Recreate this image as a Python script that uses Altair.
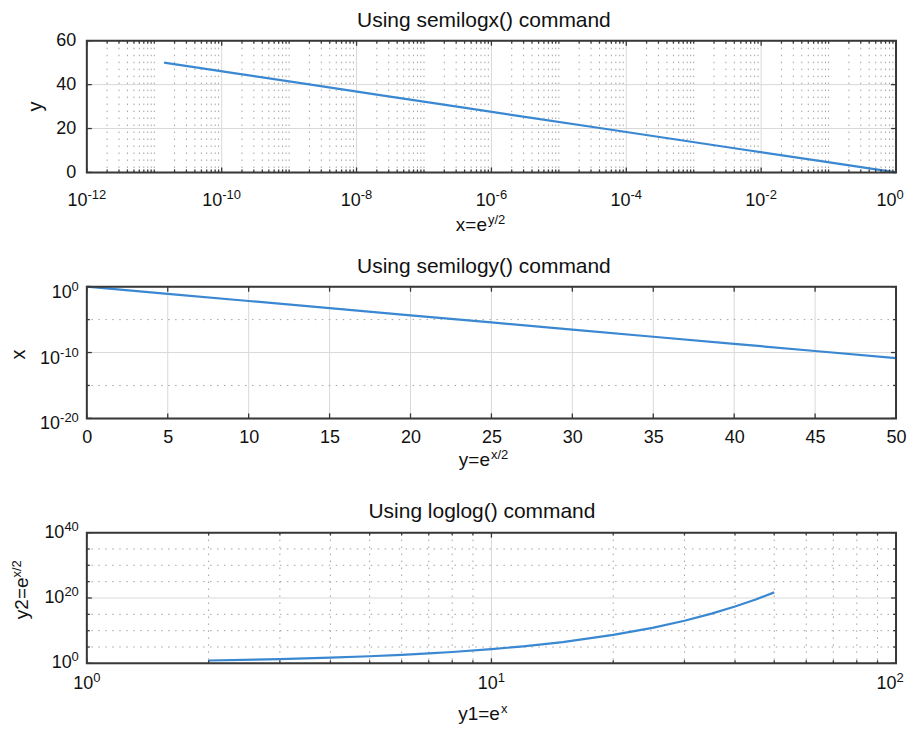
import math
import altair as alt
import pandas as pd

# ---------------- data ----------------
# panels 1 and 2: y runs 0..50, x = e^(-y/2)
y_lin = [0, 5, 10, 15, 20, 25, 30, 35, 40, 45, 50]
x_exp = [1.0, 8.2e-2, 6.7e-3, 5.5e-4, 4.5e-5, 3.7e-6, 3.1e-7, 2.5e-8, 2.1e-9, 1.7e-10, 1.4e-11]
# panel 3: loglog curve
y1_vals = [2, 3, 4, 5, 6, 7, 8, 10, 12, 15, 20, 25, 30, 35, 40, 45, 50]
y2_vals = [7.4, 20, 55, 150, 400, 1.1e3, 3.0e3, 2.2e4, 1.6e5, 3.3e6, 4.9e8,
           7.2e10, 1.1e13, 1.6e15, 2.4e17, 3.5e19, 5.2e21]

titles = ["Using semilogx() command", "Using semilogy() command", "Using loglog() command"]

# tick values
p1_x_major = [1e-12, 1e-10, 1e-8, 1e-6, 1e-4, 1e-2, 1.0]
p1_x_minor = [m * 10.0 ** k for k in range(-12, 0) for m in range(1, 10)
              if not (m == 1 and k % 2 == 0)]
p1_y_major = [0, 20, 40, 60]
p2_x_major = [0, 5, 10, 15, 20, 25, 30, 35, 40, 45, 50]
p2_y_major = [1e-20, 1e-10, 1.0]
p2_y_minor = [1e-15, 1e-5]
p3_x_major = [1, 10, 100]
p3_x_minor = [2, 3, 4, 5, 6, 7, 8, 9, 20, 30, 40, 50, 60, 70, 80, 90]
p3_y_major = [1.0, 1e20, 1e40]
p3_y_minor = [1e5, 1e10, 1e15, 1e25, 1e30, 1e35]

# ---------------- styling ----------------
W = 811
FONT = "Liberation Sans, Arial, sans-serif"
BLUE = "#3a88d1"
FRAME = "#383838"
MAJ_GRID = "#d9d9d9"
MIN_GRID = "#a9a0a0"
TXT = "#111111"
DOT = [1.5, 5.5]
LFS, EFS, RAISE = 18, 13, 7          # tick label size, exponent size, exponent raise
TS, AS, SS = 21, 19, 13              # title, axis-title, superscript sizes
BASE_W = 2 * 0.556 * LFS             # width of "10"
END_SHIFT = -6                       # keeps the right-most labels inside the page


def exp_str(v):
    return str(int(round(math.log10(v))))


def exp_w(s):
    return sum(0.333 if c == "-" else 0.556 for c in s) * EFS


def df1(col, vals):
    return pd.DataFrame({col: vals})


def axis(values, pad=8):
    return alt.Axis(values=values, grid=False, ticks=False, tickSize=0, domain=False, title=None,
                    labelFont=FONT, labelFontSize=LFS, labelColor=TXT, labelPadding=pad,
                    labelFlush=False, labelOverlap=False)


class Panel:
    def __init__(self, xs, ys, xa, ya, h, xmax=None):
        self.xs, self.ys, self.xa, self.ya, self.h, self.xmax = xs, ys, xa, ya, h, xmax

    def X(self, f):
        return alt.X(f"{f}:Q", scale=self.xs, axis=self.xa)

    def Y(self, f):
        return alt.Y(f"{f}:Q", scale=self.ys, axis=self.ya)

    def vrule(self, vals, color, dash=None):
        kw = dict(color=color, strokeWidth=1)
        if dash:
            kw["strokeDash"] = dash
        return alt.Chart(df1("v", vals)).mark_rule(**kw).encode(x=self.X("v"))

    def hrule(self, vals, color, dash=None):
        kw = dict(color=color, strokeWidth=1)
        if dash:
            kw["strokeDash"] = dash
        return alt.Chart(df1("v", vals)).mark_rule(**kw).encode(y=self.Y("v"))

    def xticks(self, vals, L):
        base = alt.Chart(df1("v", vals)).mark_rule(color=FRAME, strokeWidth=1.3)
        return [base.encode(x=self.X("v"), y=alt.value(self.h), y2=alt.value(self.h - L)),
                base.encode(x=self.X("v"), y=alt.value(0), y2=alt.value(L))]

    def yticks(self, vals, L):
        base = alt.Chart(df1("v", vals)).mark_rule(color=FRAME, strokeWidth=1.3)
        return [base.encode(y=self.Y("v"), x=alt.value(0), x2=alt.value(L)),
                base.encode(y=self.Y("v"), x=alt.value(W), x2=alt.value(W - L))]

    def line(self, xv, yv):
        return alt.Chart(pd.DataFrame({"x": xv, "y": yv})).mark_line(
            color=BLUE, strokeWidth=2.2).encode(x=self.X("x"), y=self.Y("y"))

    def frame(self):
        return alt.Chart(df1("t", [0])).mark_rect(fill=None, stroke=FRAME, strokeWidth=2).encode(
            x=alt.value(0), x2=alt.value(W), y=alt.value(0), y2=alt.value(self.h))

    def _groups(self, values, shift_end=False):
        groups = {}
        for v in values:
            s = exp_str(v)
            sh = END_SHIFT if (shift_end and v == self.xmax) else 0
            groups.setdefault((round(exp_w(s), 1), sh), []).append((v, s))
        return groups

    def xlog_labels(self, values, base_y):
        out = []
        for (w, sh), items in self._groups(values, True).items():
            d = BASE_W - (BASE_W + w) / 2 + sh
            df = pd.DataFrame({"v": [a for a, _ in items], "e": [b for _, b in items]})
            kw = dict(font=FONT, color=TXT, baseline="alphabetic")
            if d:
                kw["dx"] = d
            out.append(alt.Chart(df).mark_text(fontSize=LFS, align="right", **kw).encode(
                x=self.X("v"), y=alt.value(base_y), text=alt.value("10")))
            out.append(alt.Chart(df).mark_text(fontSize=EFS, align="left", dy=-RAISE, **kw).encode(
                x=self.X("v"), y=alt.value(base_y), text="e:N"))
        return out

    def ylog_labels(self, values, right_x, off):
        out = []
        for (w, _), items in self._groups(values).items():
            df = pd.DataFrame({"v": [a for a, _ in items], "e": [b for _, b in items]})
            kw = dict(font=FONT, color=TXT, baseline="alphabetic", align="right")
            out.append(alt.Chart(df).mark_text(fontSize=LFS, dx=-w, dy=off, **kw).encode(
                y=self.Y("v"), x=alt.value(right_x), text=alt.value("10")))
            out.append(alt.Chart(df).mark_text(fontSize=EFS, dy=off - RAISE, **kw).encode(
                y=self.Y("v"), x=alt.value(right_x), text="e:N"))
        return out


def txt(s, x, y, size, align="center", angle=0, dy=0):
    kw = dict(font=FONT, fontSize=size, align=align, baseline="alphabetic", color=TXT)
    if angle:
        kw["angle"] = angle
    if dy:
        kw["dy"] = dy
    return alt.Chart(df1("t", [s])).mark_text(**kw).encode(
        x=alt.value(x), y=alt.value(y), text="t:N")


# ---------------- panel 1: semilogx ----------------
P = Panel(alt.Scale(type="log", domain=[1e-12, 1], nice=False),
          alt.Scale(domain=[0, 60], nice=False, zero=False),
          None, axis(p1_y_major, pad=11), 132, xmax=1.0)
p1 = alt.layer(
    P.vrule(p1_x_minor, MIN_GRID, DOT),
    P.vrule(p1_x_major[1:-1], MAJ_GRID),
    P.hrule(p1_y_major[1:-1], MAJ_GRID),
    P.line(x_exp, y_lin),
    *P.xticks(p1_x_major, 5), *P.xticks(p1_x_minor, 3),
    *P.yticks(p1_y_major, 5),
    P.frame(),
    *P.xlog_labels(p1_x_major, 166),
    txt(titles[0], 398, -14, TS),
    txt("x=e", 401, 191, AS, align="right"),
    txt("y/2", 402, 191, SS, align="left", dy=-7),
    txt("y", -45, 66, 20, angle=270),
).properties(width=W, height=P.h)

# ---------------- panel 2: semilogy ----------------
P = Panel(alt.Scale(domain=[0, 50], nice=False, zero=False),
          alt.Scale(type="log", domain=[1e-20, 1], nice=False),
          axis(p2_x_major, pad=10), None, 132)
p2 = alt.layer(
    P.vrule(p2_x_major[1:-1], MAJ_GRID),
    P.hrule(p2_y_minor, MIN_GRID, DOT),
    P.hrule([1e-10], MAJ_GRID),
    P.line(y_lin, x_exp),
    *P.xticks(p2_x_major, 5),
    *P.yticks(p2_y_major, 5), *P.yticks(p2_y_minor, 3),
    P.frame(),
    *P.ylog_labels(p2_y_major, -8, 11),
    txt(titles[1], 398, -14, TS),
    txt("y=e", 404, 180, AS, align="right"),
    txt("x/2", 405, 180, SS, align="left", dy=-7),
    txt("x", -62, 68, 20, angle=270),
).properties(width=W, height=P.h)

# ---------------- panel 3: loglog ----------------
P = Panel(alt.Scale(type="log", domain=[1, 100], nice=False),
          alt.Scale(type="log", domain=[1, 1e40], nice=False),
          None, None, 131, xmax=100)
p3 = alt.layer(
    P.vrule(p3_x_minor, MIN_GRID, DOT),
    P.vrule([10], MAJ_GRID),
    P.hrule(p3_y_minor, MIN_GRID, DOT),
    P.hrule([1e20], MAJ_GRID),
    P.line(y1_vals, y2_vals),
    *P.xticks(p3_x_major, 5), *P.xticks(p3_x_minor, 3),
    *P.yticks(p3_y_major, 5), *P.yticks(p3_y_minor, 3),
    P.frame(),
    *P.xlog_labels(p3_x_major, 157),
    *P.ylog_labels(p3_y_major, -8, 5),
    txt(titles[2], 396, -15, TS),
    txt("y1=e", 414, 188, AS, align="right"),
    txt("x", 415, 188, SS, align="left", dy=-7),
    txt("y2=e", -59, 45, AS, align="right", angle=270),
    txt("x/2", -59, 45, SS, align="left", angle=270, dy=-7),
).properties(width=W, height=P.h)

chart = alt.vconcat(p1, p2, p3, spacing=114.5, bounds="flush").properties(
    padding={"left": 0, "top": 0, "right": 0, "bottom": 0}
).configure_view(stroke=None).configure(background="white")

chart.save("out.html", embed_options={"renderer": "svg", "actions": False})
